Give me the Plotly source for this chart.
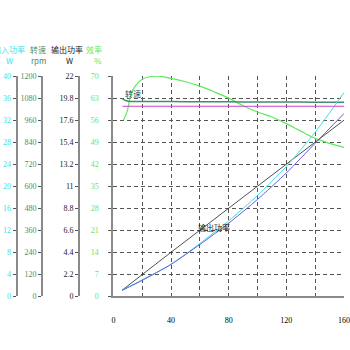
import plotly.graph_objects as go

# ---- data ----
x_eff = [7, 9.7, 12, 15.4, 20, 25, 31, 40, 50, 60, 70, 80, 90, 100, 110, 120, 130, 140, 150, 160]
eff = [56, 59, 64, 67, 69, 69.8, 70, 69.3, 68.2, 66.8, 65, 63, 60.6, 58.6, 57, 54.9, 52.5, 50.2, 48.6, 47.3]

x_rpm = [6.3, 9, 12, 20, 40, 60, 80, 100, 120, 140, 160]
rpm = [1076, 1066, 1062, 1061, 1061, 1060, 1060, 1059, 1059, 1058, 1058]

x_pow = [6, 20, 40, 60, 80, 100, 120, 140, 160]
p_out = [0.6, 2.2, 4.4, 6.6, 8.8, 11.0, 13.2, 15.4, 17.6]
p_in = [1.06, 3.0, 5.8, 9.6, 13.7, 18.3, 23.6, 29.8, 37.0]

x_cur = [6, 20, 40, 60, 80, 100, 120, 140, 160]
current = [0.27, 0.72, 1.45, 2.35, 3.32, 4.4, 5.6, 6.95, 8.3]

x_flat = [6.3, 160]
flat = [8.63, 8.63]

x_ticks = [0, 20, 40, 60, 80, 100, 120, 140, 160]
x_ticktext = ["0", "", "40", "", "80", "", "120", "", "160"]
eff_ticks = [0, 7, 14, 21, 28, 35, 42, 49, 56, 63, 70]
out_ticks = [0, 2.2, 4.4, 6.6, 8.8, 11, 13.2, 15.4, 17.6, 19.8, 22]
out_ticktext = ["0", "2.2", "4.4", "6.6", "8.8", "11", "13.2", "15.4", "17.6", "19.8", "22"]
rpm_ticks = [0, 120, 240, 360, 480, 600, 720, 840, 960, 1080, 1200]
in_ticks = [0, 4, 8, 12, 16, 20, 24, 28, 32, 36, 40]

C_IN = "#3ee0e0"
C_RPM = "#3f8f6f"
C_OUT = "#222222"
C_EFF = "#5ee85e"
C_BLUE = "#6a5ae0"
C_MAG = "#cc44cc"

W = 350.0
SERIF = "Liberation Serif"
CJK = "Noto Sans CJK SC"

fig = go.Figure()
fig.add_trace(go.Scatter(x=x_flat, y=flat, yaxis="y5", mode="lines",
                         line=dict(color=C_MAG, width=1)))
fig.add_trace(go.Scatter(x=x_rpm, y=rpm, yaxis="y3", mode="lines",
                         line=dict(color=C_RPM, width=1.5, shape="spline")))
fig.add_trace(go.Scatter(x=x_eff, y=eff, yaxis="y", mode="lines",
                         line=dict(color=C_EFF, width=1.2, shape="spline")))
fig.add_trace(go.Scatter(x=x_pow, y=p_out, yaxis="y2", mode="lines",
                         line=dict(color=C_OUT, width=0.8)))
fig.add_trace(go.Scatter(x=x_pow, y=p_in, yaxis="y4", mode="lines",
                         line=dict(color=C_IN, width=1, shape="spline", smoothing=0.6)))
fig.add_trace(go.Scatter(x=x_cur, y=current, yaxis="y5", mode="lines",
                         line=dict(color=C_BLUE, width=1, shape="spline", smoothing=0.6)))

ydom = [50 / W, 1 - 74 / W]
grid = dict(showgrid=True, gridcolor="#555555", griddash="4px,3px", gridwidth=1)

def side_axis(pos, rng, tv, tt, color):
    return dict(overlaying="y", anchor="free", position=pos, side="left", range=rng,
                tickvals=tv, ticktext=tt, showgrid=False, zeroline=False,
                showline=True, linecolor="#8a8a8a", linewidth=2,
                ticks="outside", ticklen=3, tickcolor="#555555",
                tickfont=dict(family=SERIF, size=8, color=color))

fig.update_layout(
    width=350, height=350, margin=dict(l=0, r=0, t=0, b=0),
    paper_bgcolor="white", plot_bgcolor="white", showlegend=False,
    xaxis=dict(domain=[114 / W, 1], range=[0, 160], tickvals=x_ticks, ticktext=x_ticktext,
               zeroline=False, showline=True, linecolor="#8a8a8a", linewidth=2,
               ticks="", ticklabelstandoff=15, ticklabeloverflow="allow",
               tickfont=dict(family=SERIF, size=8, color="#000000"), **grid),
    yaxis=dict(domain=ydom, range=[0, 70], tickvals=eff_ticks,
               ticktext=[str(v) for v in eff_ticks], zeroline=False,
               showline=True, linecolor="#8a8a8a", linewidth=2,
               ticks="outside", ticklen=3, tickcolor="#555555", ticklabelstandoff=8,
               tickfont=dict(family=SERIF, size=8, color=C_EFF), **grid),
    yaxis2=side_axis(79 / W, [0, 22], out_ticks, out_ticktext, C_OUT),
    yaxis3=side_axis(41 / W, [0, 1200], rpm_ticks, [str(v) for v in rpm_ticks], C_RPM),
    yaxis4=side_axis(15 / W, [0, 40], in_ticks, [str(v) for v in in_ticks], C_IN),
    yaxis5=dict(overlaying="y", range=[0, 10], visible=False),
)

def title(px, text, color, py):
    fig.add_annotation(x=px / W, y=1 - py / W, xref="paper", yref="paper", text=text,
                       showarrow=False, xanchor="center", yanchor="middle",
                       font=dict(family=CJK, size=8, color=color))

title(7, "输入功率", C_IN, 47)
title(8, "W", C_IN, 58)
title(36.5, "转速", C_RPM, 47)
title(37, "rpm", C_RPM, 58)
title(67, "输出功率", C_OUT, 47)
title(69, "W", C_OUT, 58)
title(94, "效率", C_EFF, 47)
title(98, "%", C_EFF, 58)

fig.add_annotation(x=13.6, y=64.5, xref="x", yref="y", text="转速", showarrow=False,
                   font=dict(family=CJK, size=8, color="#2f4f3f"))
fig.add_annotation(x=70, y=22, xref="x", yref="y", text="输出功率", showarrow=False,
                   font=dict(family=CJK, size=8, color="#222222"))

fig.write_html("out.html")
